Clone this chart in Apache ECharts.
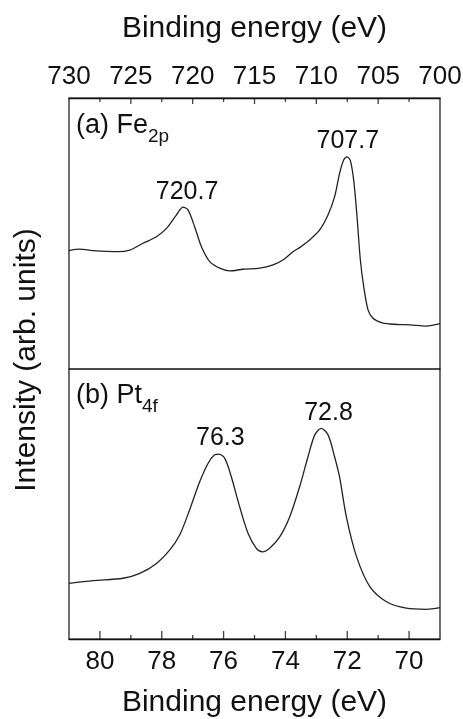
<!DOCTYPE html>
<html lang="en">
<head>
<meta charset="UTF-8">
<title>XPS Fe2p / Pt4f</title>
<script src="https://cdn.jsdelivr.net/npm/echarts@6/dist/echarts.min.js"></script>
<style>
html,body{margin:0;padding:0;background:#fff}
#chartBox{width:463px;height:719px}
</style>
</head>
<body>
<div id="chartBox"></div>
<script>
// Fe 2p spectrum, upper panel (binding energy in eV, intensity in arb. units)
const feEnergy = [730.00, 729.13, 728.08, 726.06, 725.08, 724.02, 722.93, 722.12, 721.32, 720.78,
    720.38, 719.84, 719.29, 718.62, 717.81, 717.01, 715.93, 714.58, 713.50, 712.70,
    711.89, 711.35, 710.54, 709.73, 709.06, 708.52, 708.12, 707.79, 707.52, 707.25,
    706.98, 706.71, 706.44, 706.17, 705.82, 705.42, 704.74, 704.07, 703.27, 702.45,
    701.10, 700.00];
const feIntensity = [43.7, 44.2, 43.7, 43.3, 43.9, 46.4, 48.8, 51.9, 56.8, 59.7,
    58.7, 52.5, 45.1, 39.6, 37.2, 36.2, 36.8, 37.2, 38.4, 40.2,
    43.3, 44.8, 47.6, 51.3, 56.8, 63.6, 72.2, 77.1, 78.3, 76.9,
    69.7, 56.2, 40.2, 30.4, 21.8, 18.7, 17.1, 16.6, 16.4, 16.3,
    15.8, 16.7];
const fePeakLabels = ['720.7', '707.7'];
const fePeakIntensity = [59.7, 78.3];

// Pt 4f spectrum, lower panel
const ptEnergy = [81.00, 80.22, 79.25, 78.71, 78.17, 77.74, 77.42, 77.10, 76.77, 76.50,
    76.29, 76.15, 75.96, 75.75, 75.48, 75.21, 74.94, 74.74, 74.51, 74.18,
    73.86, 73.54, 73.27, 73.05, 72.84, 72.62, 72.41, 72.25, 72.03, 71.70,
    71.27, 70.73, 70.09, 69.44, 69.00];
const ptIntensity = [20.6, 21.6, 22.5, 24.3, 28.0, 33.0, 38.5, 47.8, 58.3, 65.1,
    68.2, 68.5, 66.9, 60.1, 49.0, 39.2, 33.6, 32.3, 33.6, 37.9,
    45.3, 56.4, 67.5, 75.6, 78.0, 75.6, 67.5, 60.1, 45.3, 30.5,
    19.4, 13.8, 11.4, 11.0, 11.6];
const ptPeakLabels = ['76.3', '72.8'];
const ptPeakIntensity = [68.5, 78.0];

// axis ranges and inward tick positions
const feRange = [700, 730];
const ptRange = [69, 81];
const feMajorTicks = [705, 710, 715, 720, 725];
const feMinorTicks = [702.5, 707.5, 712.5, 717.5, 722.5, 727.5];
const ptMajorTicks = [70, 72, 74, 76, 78, 80];
const ptMinorTicks = [71, 73, 75, 77, 79];

const FONT = 'Liberation Sans, Arial, Helvetica, sans-serif';
const INK = '#111';
const TOP = 98, PANEL_H = 271, PANEL_H2 = 270;

function pairs(xs, ys) {
    return xs.map((x, i) => [x, ys[i]]);
}

// 峰位标注
function peakMarks(labels, intensities, dx) {
    return {
        symbol: 'circle',
        symbolSize: 0,
        label: {
            show: true,
            position: 'top',
            distance: 3,
            offset: [dx, 0],
            color: INK,
            fontFamily: FONT,
            fontSize: 25,
            formatter: p => p.name
        },
        data: labels.map((t, i) => ({name: t, coord: [parseFloat(t), intensities[i]]}))
    };
}

// 朝内的刻度线：用细长矩形符号画在边框上
function tickSeries(values, axisIdx, yAxisIdx, yVal, len, dir) {
    return {
        type: 'scatter',
        xAxisIndex: axisIdx,
        yAxisIndex: yAxisIdx,
        silent: true,
        clip: false,
        z: 3,
        symbol: 'rect',
        symbolSize: [1.3, len],
        symbolOffset: [0, dir * len / 2],
        itemStyle: {color: INK},
        emphasis: {disabled: true},
        data: values.map(v => [v, yVal])
    };
}

function panelLabel(main, sub, y) {
    return {
        type: 'text',
        x: 76,
        y: y,
        style: {
            text: '{m|' + main + '}{s|' + sub + '}',
            verticalAlign: 'middle',
            rich: {
                m: {fontSize: 27, fontFamily: FONT, fill: INK, color: INK},
                s: {fontSize: 19, fontFamily: FONT, fill: INK, color: INK, padding: [22, 0, 0, 0]}
            }
        }
    };
}

const axisLineStyle = {color: INK, width: 1.3};

const option = {
    backgroundColor: '#fff',
    animation: false,
    grid: [
        {left: 69, right: 23, top: TOP, height: PANEL_H, show: true, borderColor: INK, borderWidth: 1.2,
         containLabel: false, outerBoundsMode: 'none'},
        {left: 69, right: 23, top: TOP + PANEL_H, height: PANEL_H2, show: true, borderColor: INK, borderWidth: 1.2,
         containLabel: false, outerBoundsMode: 'none'}
    ],
    xAxis: [
        {
            type: 'value',
            gridIndex: 0,
            position: 'top',
            min: feRange[0],
            max: feRange[1],
            interval: 5,
            inverse: true,
            axisLine: {show: true, onZero: false, lineStyle: axisLineStyle},
            axisTick: {show: false},
            splitLine: {show: false},
            axisLabel: {color: INK, fontFamily: FONT, fontSize: 26, margin: 8, showMinLabel: true, showMaxLabel: true},
            name: 'Binding energy (eV)',
            nameLocation: 'middle',
            nameGap: 54,
            nameMoveOverlap: false,
            nameTextStyle: {color: INK, fontFamily: FONT, fontSize: 30}
        },
        {
            type: 'value',
            gridIndex: 1,
            position: 'bottom',
            min: ptRange[0],
            max: ptRange[1],
            interval: 1,
            inverse: true,
            axisLine: {show: true, onZero: false, lineStyle: axisLineStyle},
            axisTick: {show: false},
            splitLine: {show: false},
            axisLabel: {
                color: INK, fontFamily: FONT, fontSize: 26, margin: 10,
                formatter: v => (Math.round(v) % 2 === 0 ? String(v) : '')
            },
            name: 'Binding energy (eV)',
            nameLocation: 'middle',
            nameGap: 49,
            nameMoveOverlap: false,
            nameTextStyle: {color: INK, fontFamily: FONT, fontSize: 30}
        }
    ],
    yAxis: [
        {type: 'value', gridIndex: 0, min: 0, max: 100, show: false},
        {type: 'value', gridIndex: 1, min: 0, max: 100, show: false}
    ],
    series: [
        {
            type: 'line',
            name: 'Fe2p',
            xAxisIndex: 0,
            yAxisIndex: 0,
            data: pairs(feEnergy, feIntensity),
            symbol: 'none',
            smooth: 0.3,
            lineStyle: {color: '#222', width: 1.3},
            markPoint: peakMarks(fePeakLabels, fePeakIntensity, 3)
        },
        {
            type: 'line',
            name: 'Pt4f',
            xAxisIndex: 1,
            yAxisIndex: 1,
            data: pairs(ptEnergy, ptIntensity),
            symbol: 'none',
            smooth: 0.3,
            lineStyle: {color: '#222', width: 1.3},
            markPoint: peakMarks(ptPeakLabels, ptPeakIntensity, 6)
        },
        tickSeries(feMajorTicks, 0, 0, 100, 6, 1),
        tickSeries(feMinorTicks, 0, 0, 100, 4, 1),
        tickSeries(ptMajorTicks, 1, 1, 0, 8, -1),
        tickSeries(ptMinorTicks, 1, 1, 0, 4, -1)
    ],
    graphic: [
        {
            type: 'text',
            x: 27,
            y: 360,
            rotation: Math.PI / 2,
            style: {
                text: 'Intensity (arb. units)',
                fill: INK,
                font: '30px ' + FONT,
                align: 'center',
                verticalAlign: 'middle'
            }
        },
        panelLabel('(a) Fe', '2p', 126),
        panelLabel('(b) Pt', '4f', 396)
    ]
};

const chartObj = echarts.init(document.getElementById('chartBox'));
chartObj.setOption(option);
</script>
</body>
</html>
